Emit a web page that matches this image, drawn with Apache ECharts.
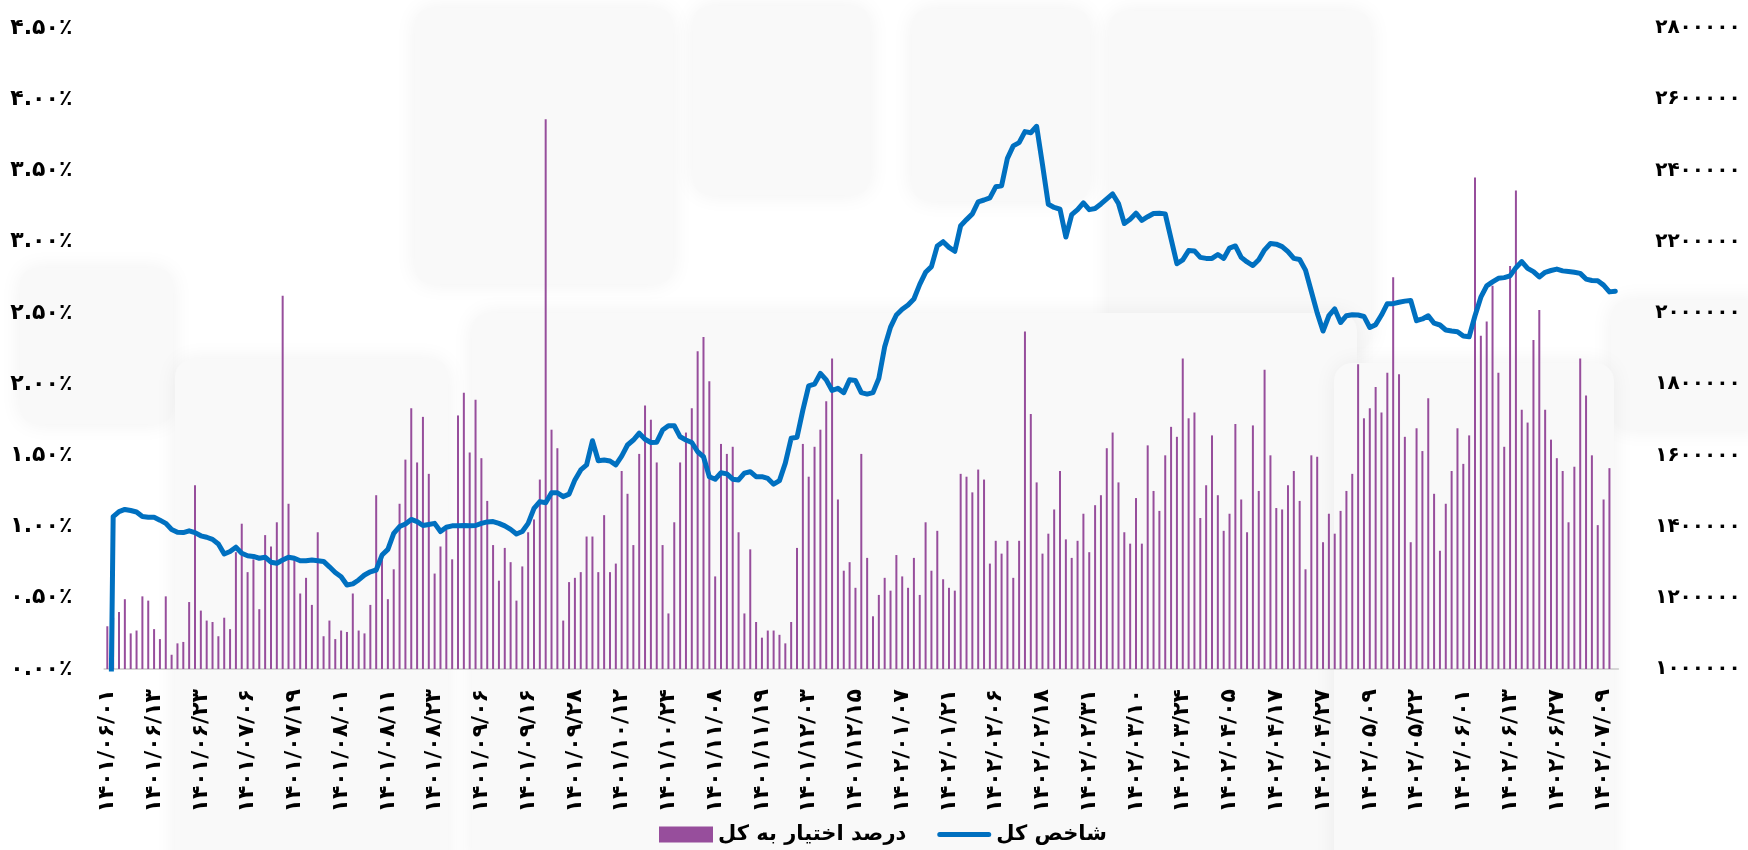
<!DOCTYPE html>
<html>
<head>
<meta charset="utf-8">
<title>شاخص کل و درصد اختیار به کل</title>
<script src="https://cdn.jsdelivr.net/npm/echarts@6/dist/echarts.min.js"></script>
<style>
  html, body { margin: 0; padding: 0; background: #fff; }
  #chart { width: 1748px; height: 850px; }
</style>
</head>
<body>
<div id="chart"></div>
<script>
// تاریخ‌هایی که روی محور افقی دیده می‌شوند (هر ۸ روز معاملاتی یکی)
const labelDates = [
  '1401/06/01', '1401/06/13', '1401/06/23', '1401/07/06', '1401/07/19', '1401/08/01',
  '1401/08/11', '1401/08/23', '1401/09/06', '1401/09/16', '1401/09/28', '1401/10/12',
  '1401/10/24', '1401/11/08', '1401/11/19', '1401/12/03', '1401/12/15', '1402/01/07',
  '1402/01/21', '1402/02/06', '1402/02/18', '1402/02/31', '1402/03/10', '1402/03/24',
  '1402/04/05', '1402/04/17', '1402/04/27', '1402/05/09', '1402/05/22', '1402/06/01',
  '1402/06/13', '1402/06/27', '1402/07/09'
];
const tailDates = ['1402/07/10', '1402/07/11'];

// درصد اختیار به کل (%)
const optionShare = [
  0.30, 0.36, 0.40, 0.49, 0.25, 0.27, 0.51, 0.48, 0.28, 0.21,
  0.51, 0.10, 0.18, 0.19, 0.47, 1.29, 0.41, 0.34, 0.33, 0.23,
  0.36, 0.28, 0.82, 1.02, 0.68, 0.77, 0.42, 0.94, 0.86, 1.03,
  2.62, 1.16, 0.77, 0.53, 0.64, 0.45, 0.96, 0.23, 0.34, 0.21,
  0.27, 0.26, 0.53, 0.27, 0.25, 0.45, 1.22, 0.81, 0.49, 0.70,
  1.16, 1.47, 1.83, 1.45, 1.77, 1.37, 0.67, 0.86, 0.98, 0.77,
  1.78, 1.94, 1.52, 1.89, 1.48, 1.18, 0.87, 0.62, 0.85, 0.75,
  0.48, 0.72, 0.96, 1.05, 1.33, 3.86, 1.68, 1.55, 0.34, 0.61,
  0.64, 0.68, 0.93, 0.93, 0.68, 1.08, 0.68, 0.74, 1.39, 1.23,
  0.87, 1.51, 1.85, 1.75, 1.45, 0.87, 0.39, 1.03, 1.45, 1.66,
  1.83, 2.23, 2.33, 2.02, 0.65, 1.58, 1.51, 1.56, 0.96, 0.39,
  0.84, 0.33, 0.22, 0.27, 0.27, 0.24, 0.18, 0.33, 0.85, 1.58,
  1.35, 1.56, 1.68, 1.88, 2.18, 1.19, 0.69, 0.75, 0.57, 1.51,
  0.78, 0.37, 0.52, 0.64, 0.55, 0.80, 0.65, 0.57, 0.78, 0.52,
  1.03, 0.69, 0.97, 0.63, 0.57, 0.55, 1.37, 1.35, 1.24, 1.40,
  1.33, 0.74, 0.90, 0.81, 0.90, 0.64, 0.90, 2.37, 1.79, 1.31,
  0.81, 0.95, 1.12, 1.39, 0.91, 0.78, 0.90, 1.09, 0.82, 1.15,
  1.22, 1.55, 1.66, 1.31, 0.96, 0.88, 1.20, 0.88, 1.57, 1.25,
  1.11, 1.50, 1.70, 1.63, 2.18, 1.76, 1.80, 1.06, 1.29, 1.64,
  1.22, 0.97, 1.09, 1.72, 1.19, 0.96, 1.71, 1.25, 2.10, 1.50,
  1.13, 1.12, 1.29, 1.39, 1.18, 0.70, 1.50, 1.49, 0.89, 1.09,
  0.95, 1.11, 1.25, 1.37, 2.14, 1.76, 1.83, 1.98, 1.80, 2.08,
  2.75, 2.07, 1.63, 0.89, 1.69, 1.53, 1.90, 1.23, 0.83, 1.16,
  1.39, 1.69, 1.44, 1.64, 3.45, 2.34, 2.44, 2.69, 2.08, 1.56,
  2.83, 3.36, 1.82, 1.73, 2.31, 2.52, 1.82, 1.61, 1.48, 1.39,
  1.03, 1.42, 2.18, 1.92, 1.50, 1.01, 1.19, 1.41, null
];

// شاخص کل
const totalIndex = [
  0, 1428000, 1442000, 1448000, 1445000, 1441000, 1428000, 1426000, 1426000, 1418000,
  1409000, 1392000, 1384000, 1383000, 1388000, 1383000, 1374000, 1370000, 1364000, 1351000,
  1323000, 1330000, 1342000, 1325000, 1318000, 1316000, 1311000, 1314000, 1300000, 1297000,
  1306000, 1314000, 1311000, 1304000, 1304000, 1306000, 1304000, 1302000, 1287000, 1271000,
  1259000, 1236000, 1239000, 1250000, 1264000, 1273000, 1278000, 1320000, 1336000, 1381000,
  1400000, 1407000, 1420000, 1414000, 1403000, 1406000, 1409000, 1386000, 1398000, 1402000,
  1402000, 1403000, 1402000, 1403000, 1409000, 1413000, 1414000, 1409000, 1402000, 1392000,
  1379000, 1386000, 1409000, 1451000, 1470000, 1467000, 1495000, 1495000, 1484000, 1491000,
  1531000, 1559000, 1573000, 1641000, 1585000, 1587000, 1584000, 1573000, 1598000, 1629000,
  1643000, 1662000, 1645000, 1636000, 1637000, 1671000, 1683000, 1683000, 1652000, 1643000,
  1636000, 1610000, 1596000, 1540000, 1533000, 1551000, 1548000, 1533000, 1531000, 1550000,
  1554000, 1540000, 1540000, 1535000, 1519000, 1529000, 1578000, 1648000, 1651000, 1727000,
  1795000, 1800000, 1830000, 1812000, 1782000, 1788000, 1776000, 1812000, 1810000, 1776000,
  1772000, 1776000, 1816000, 1905000, 1960000, 1994000, 2010000, 2022000, 2039000, 2080000,
  2114000, 2130000, 2188000, 2200000, 2184000, 2173000, 2245000, 2262000, 2278000, 2312000,
  2317000, 2323000, 2354000, 2357000, 2434000, 2469000, 2478000, 2509000, 2506000, 2524000,
  2416000, 2305000, 2296000, 2291000, 2213000, 2276000, 2290000, 2309000, 2290000, 2293000,
  2306000, 2320000, 2334000, 2307000, 2251000, 2263000, 2280000, 2260000, 2270000, 2279000,
  2280000, 2278000, 2208000, 2138000, 2149000, 2175000, 2174000, 2156000, 2153000, 2153000,
  2164000, 2153000, 2182000, 2188000, 2156000, 2143000, 2133000, 2149000, 2177000, 2195000,
  2193000, 2186000, 2172000, 2153000, 2150000, 2120000, 2060000, 2000000, 1949000, 1992000,
  2011000, 1973000, 1992000, 1995000, 1994000, 1990000, 1959000, 1967000, 1994000, 2026000,
  2026000, 2030000, 2033000, 2035000, 1978000, 1983000, 1992000, 1971000, 1966000, 1952000,
  1949000, 1947000, 1935000, 1933000, 1992000, 2044000, 2076000, 2087000, 2097000, 2099000,
  2104000, 2127000, 2144000, 2125000, 2116000, 2101000, 2114000, 2119000, 2123000, 2118000,
  2116000, 2114000, 2111000, 2095000, 2091000, 2090000, 2078000, 2059000, 2061000
];

const faDigits = '۰۱۲۳۴۵۶۷۸۹';
const toFa = (s) => String(s).replace(/\d/g, (d) => faDigits[d]);

// روزهای معاملاتی میان دو برچسب (شنبه تا چهارشنبه)
const dayNum = (y, m, d) => (y - 1401) * 365 + (m <= 6 ? (m - 1) * 31 : 186 + (m - 7) * 30) + d;
const parse = (s) => s.split('/').map(Number);
const fmt = (n) => {
  let y = 1401;
  if (n > 365) { y = 1402; n -= 365; }
  let m, d;
  if (n <= 186) { m = Math.ceil(n / 31); d = n - (m - 1) * 31; }
  else { m = 7 + Math.ceil((n - 186) / 30) - 1; d = n - 186 - (m - 7) * 30; }
  return y + '/' + String(m).padStart(2, '0') + '/' + String(d).padStart(2, '0');
};
const weekday = (n) => ((n - 153) % 7 + 7) % 7; // 0 = شنبه

const categories = [];
labelDates.forEach((s, k) => {
  categories.push(s);
  if (k === labelDates.length - 1) return;
  const a = dayNum(...parse(s));
  const b = dayNum(...parse(labelDates[k + 1]));
  const between = [];
  for (let n = a + 1; n < b; n++) if (weekday(n) <= 4) between.push(fmt(n));
  for (let n = a + 1; between.length < 7 && n < b; n++) between.push(fmt(n));
  categories.push(...between.slice(0, 7));
});
categories.push(...tailDates);

const font = 'DejaVu Sans';
const chart = echarts.init(document.getElementById('chart'));

const tiles = [
  [415, 8, 258, 276], [693, 6, 177, 189], [912, 9, 178, 192], [1109, 11, 262, 340],
  [20, 268, 153, 156], [1611, 300, 160, 130], [175, 359, 273, 520], [472, 313, 885, 560],
  [1334, 363, 280, 520]
];

// آیکون خط راهنما: نوار نازک با لبه‌های گرد در کادر ۵۴×۱۶
const lineIcon = 'path://M0,0h0.1v0.1h-0.1z M2.5,5.5h49a2.5,2.5 0 0 1 0,5h-49a2.5,2.5 0 0 1 0,-5z M53.9,15.9h0.1v0.1h-0.1z';

chart.setOption({
  backgroundColor: '#ffffff',
  animation: false,
  graphic: tiles.map((t) => ({
    type: 'rect',
    silent: true,
    z: -10,
    shape: { x: t[0], y: t[1], width: t[2], height: t[3], r: 18 },
    style: { fill: '#f9f9f9', shadowBlur: 22, shadowColor: 'rgba(0,0,0,0.06)' }
  })),
  legend: {
    data: [
      { name: 'درصد اختیار به کل', icon: 'rect' },
      { name: 'شاخص کل', icon: lineIcon }
    ],
    left: 659,
    top: 824,
    padding: 0,
    itemWidth: 54,
    itemHeight: 16,
    itemGap: 31,
    symbolKeepAspect: false,
    textStyle: { fontFamily: font, fontSize: 21, fontWeight: 'bold', color: '#000' }
  },
  grid: { left: 104.4, right: 129.8, top: 28, bottom: 181 },
  xAxis: {
    type: 'category',
    data: categories,
    boundaryGap: true,
    axisLine: { lineStyle: { color: '#d6d6d6', width: 2 } },
    axisTick: { show: false },
    axisLabel: {
      interval: 7,
      rotate: 90,
      margin: 20,
      fontFamily: font,
      fontSize: 22,
      fontWeight: 'bold',
      color: '#000',
      formatter: (v) => toFa(v)
    },
    splitLine: { show: false }
  },
  yAxis: [
    {
      type: 'value',
      min: 0,
      max: 4.5,
      interval: 0.5,
      axisLine: { show: false },
      axisTick: { show: false },
      splitLine: { show: false },
      axisLabel: {
        margin: 32,
        fontFamily: font,
        fontSize: 22,
        fontWeight: 'bold',
        color: '#000',
        formatter: (v) => toFa(v.toFixed(2)) + '٪'
      }
    },
    {
      type: 'value',
      min: 1000000,
      max: 2800000,
      interval: 200000,
      axisLine: { show: false },
      axisTick: { show: false },
      splitLine: { show: false },
      axisLabel: {
        margin: 37,
        fontFamily: font,
        fontSize: 20,
        fontWeight: 'bold',
        color: '#000',
        formatter: (v) => toFa(v)
      }
    }
  ],
  series: [
    {
      name: 'درصد اختیار به کل',
      type: 'bar',
      data: optionShare,
      barWidth: 2,
      itemStyle: { color: '#974e9c' },
      z: 2
    },
    {
      name: 'شاخص کل',
      type: 'line',
      yAxisIndex: 1,
      data: totalIndex,
      symbol: 'none',
      lineStyle: { color: '#0070c0', width: 5, cap: 'round', join: 'round' },
      itemStyle: { color: '#0070c0' },
      z: 3
    }
  ]
});

window.onresize = function () {
  chart.resize();
};
</script>
</body>
</html>
